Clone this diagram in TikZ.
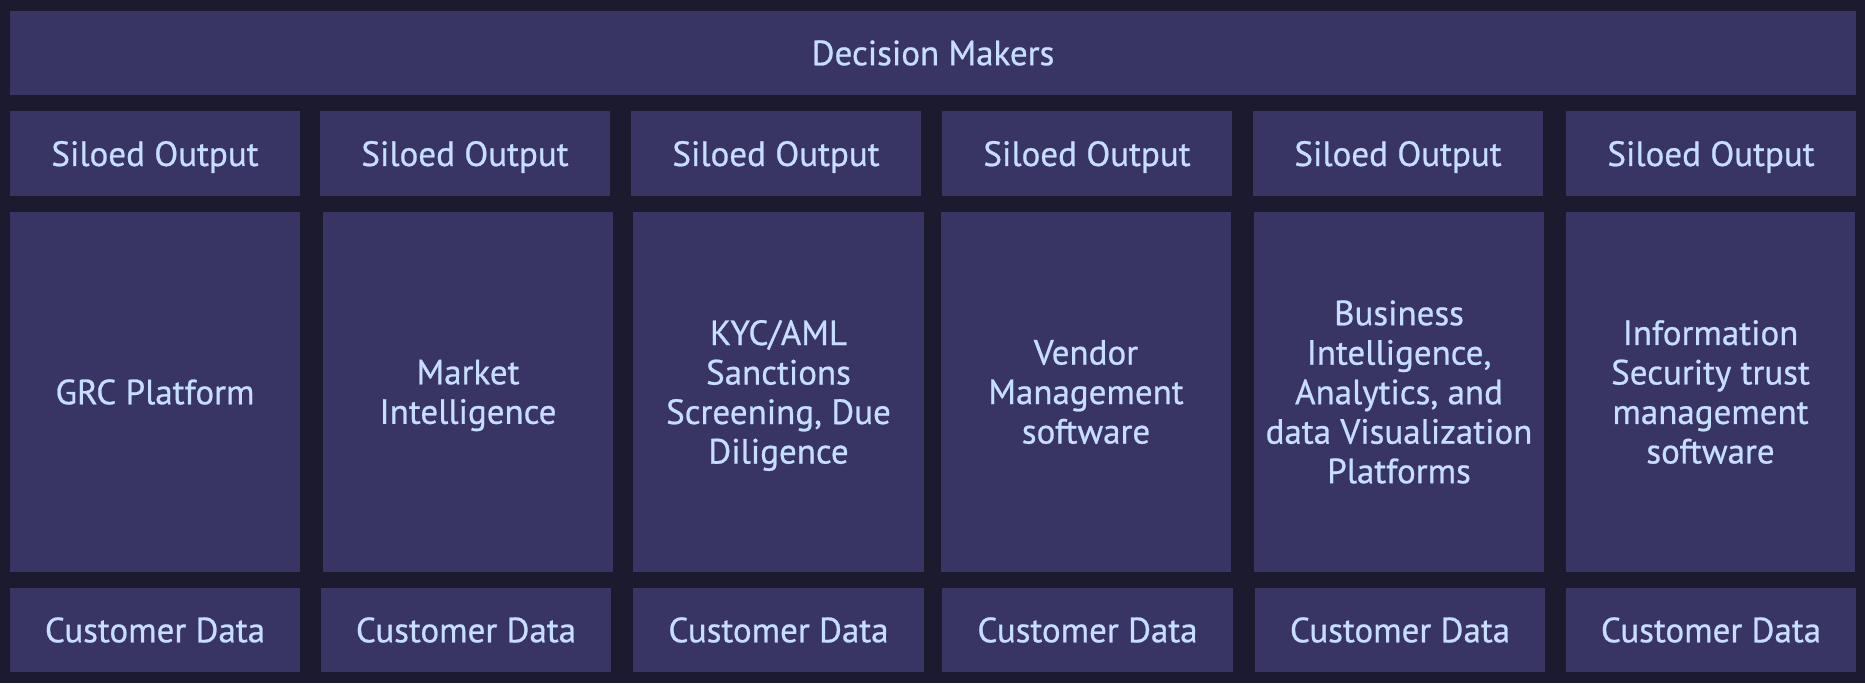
\documentclass[tikz,border=0pt]{standalone}
\usepackage{fontspec}
\setmainfont{PT Sans}[BoldFont=PT Sans, BoldFeatures={FakeBold=0.7}]
\definecolor{bgc}{RGB}{28,26,46}
\definecolor{boxc}{RGB}{56,53,100}
\definecolor{txtc}{RGB}{198,222,255}
\begin{document}
\begin{tikzpicture}[x=1pt,y=-1pt,
  blk/.style={fill=boxc, draw=none, inner sep=0pt, outer sep=0pt, text=txtc, align=center,
    font=\fontsize{35}{39.5}\selectfont\bfseries},
  lowtext/.style={label={[text=txtc, font=\fontsize{35}{39.5}\selectfont\bfseries, align=center, inner sep=0pt, yshift=-3.5pt]center:#1}},
  rowS/.style={blk, minimum height=85pt, minimum width=290pt},
  rowM/.style={blk, minimum height=360pt, minimum width=290pt},
  rowC/.style={blk, minimum height=84pt, minimum width=290pt}]
\fill[bgc] (0,0) rectangle (1865,683);
\useasboundingbox (0,0) rectangle (1865,683);
\node[blk, minimum width=1846pt, minimum height=84pt] (dm) at (933,53) {Decision Makers};
% siloed output
\node[rowS, lowtext={Siloed Output}] (s1) at (155,153.5) {};
\node[rowS, lowtext={Siloed Output}] (s2) at (465,153.5) {};
\node[rowS, lowtext={Siloed Output}] (s3) at (776,153.5) {};
\node[rowS, lowtext={Siloed Output}] (s4) at (1087,153.5) {};
\node[rowS, lowtext={Siloed Output}] (s5) at (1398,153.5) {};
\node[rowS, lowtext={Siloed Output}] (s6) at (1711,153.5) {};
% platforms
\node[rowM] (m1) at (155,392) {GRC Platform};
\node[rowM, lowtext={Market\\Intelligence}] (m2) at (468,392) {};
\node[rowM, minimum width=291pt, lowtext={KYC/AML\\Sanctions\\Screening, Due\\Diligence}] (m3) at (778.5,392) {};
\node[rowM] (m4) at (1086,392) {Vendor\\Management\\software};
\node[rowM] (m5) at (1399,392) {Business\\Intelligence,\\Analytics, and\\data Visualization\\Platforms};
\node[rowM, minimum width=289pt] (m6) at (1710.5,392) {Information\\Security trust\\management\\software};
% customer data
\node[rowC] (c1) at (155,630) {Customer Data};
\node[rowC] (c2) at (466,630) {Customer Data};
\node[rowC, minimum width=291pt] (c3) at (778.5,630) {Customer Data};
\node[rowC, minimum width=291pt] (c4) at (1087.5,630) {Customer Data};
\node[rowC] (c5) at (1400,630) {Customer Data};
\node[rowC] (c6) at (1711,630) {Customer Data};
\end{tikzpicture}
\end{document}
